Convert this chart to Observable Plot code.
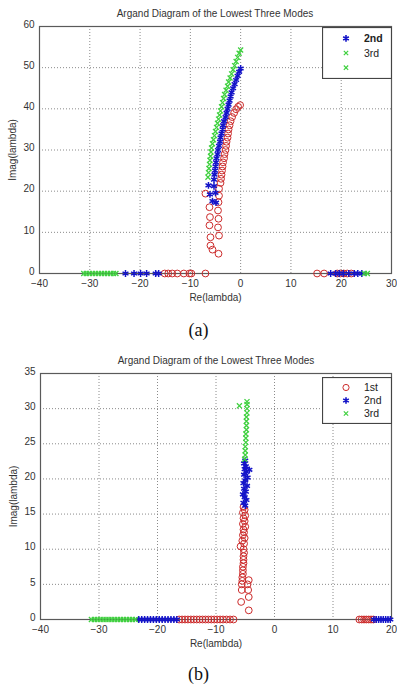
<!DOCTYPE html>
<html><head><meta charset="utf-8">
<script src="https://cdn.jsdelivr.net/npm/d3@7"></script>
<script src="https://cdn.jsdelivr.net/npm/@observablehq/plot@0.6"></script>
<style>
body{margin:0;background:#fff;}
#root{position:relative;width:397px;height:686px;overflow:hidden;font-family:"Liberation Sans",Arial,sans-serif;background:#fff;}
.panel{position:absolute;left:0;}
.title{position:absolute;width:352px;text-align:center;font-size:10px;color:#333;white-space:nowrap;}
.cap{position:absolute;width:397px;left:0;text-align:center;font-family:"Liberation Serif","Times New Roman",serif;font-size:18px;color:#111;}
.legend{position:absolute;}
</style>
</head><body>
<div id="root"></div>
<script>
// ---------- Panel (a) data ----------
const titleText = "Argand Diagram of the Lowest Three Modes";
const xLabel = "Re(lambda)";
const yLabel = "Imag(lambda)";
const xTicksA = [-40, -30, -20, -10, 0, 10, 20, 30];
const yTicksA = [0, 10, 20, 30, 40, 50, 60];
const legendA = ["2nd", "3rd", ""];

// 1st mode (red circles)
const aRe1 = [-15.1,-14.4,-13.6,-12.6,-11.3,-10.2,-9.8,-7.0, 15.2,16.6,19.2,19.8,20.5,21.2,22.0,
  -7.0,-6.2,-6.1,-6.2,-6.0,-6.0,-5.6,-4.3,-4.3,-4.4,-4.5,-4.4,-4.5,-4.3,-4.4,
  -4.0,-3.9,-3.8,-3.7,-3.6,-3.5,-3.3,-3.2,-3.0,-2.9,-2.8,-2.6,-2.5,-2.4,-2.2,-2.0,-1.7,-1.3,-0.9,-0.5,-0.1];
const aIm1 = [0,0,0,0,0,0,0,0, 0,0,0,0,0,0,0,
  19.4,16.1,13.7,11.7,8.8,6.8,5.8,20.6,18.9,17.3,15.3,13.3,11.2,9.2,4.8,
  22,23,24,25,26,27,28,29,30,31,32,33,34,35,36,37,38,39,39.9,40.5,40.9];
// 2nd mode (blue stars)
const aRe2 = [-22.9,-21.2,-19.9,-18.7,-16.9,-16.3, 17.9,18.9,19.6,20.4,21.5,22.6,23.3,24.1,
  -6.4,-5.3,-6.1,-5.0,-5.6,-4.9,-5.3,
  -5.2,-5.1,-5.0,-4.9,-4.8,-4.6,-4.5,-4.3,-4.1,-4.0,-3.8,-3.6,-3.5,-3.3,-3.0,-2.8,-2.6,-2.4,-2.2,-2.0,-1.8,-1.5,-1.2,-0.9,-0.6,-0.3,0];
const aIm2 = [0,0,0,0,0,0, 0,0,0,0,0,0,0,0,
  21.4,21.2,19.2,19.6,17.6,17.2,22.8,
  24,25,26,27,28,29,30,31,32,33,34,35,36,37,38,39,40,41,42,43,44,45,46,47,48,49,49.8];
// 3rd mode (green crosses)
const aRe3 = [-31.2,-30.7,-30.1,-29.5,-28.9,-28.3,-27.7,-27.1,-26.5,-25.9,-25.3,-24.8, 24.6,25.2,
  -6.5,-6.4,-6.3,-6.2,-6.1,-6.0,-5.9,-5.8,-5.6,-5.4,-5.2,-5.0,-4.8,-4.6,-4.4,-4.2,-4.0,-3.8,-3.6,-3.4,-3.2,-2.9,-2.6,-2.4,-2.1,-1.8,-1.5,-1.2,-0.9,-0.6,-0.3,0];
const aIm3 = [0,0,0,0,0,0,0,0,0,0,0,0, 0,0,
  23.4,24.5,25.5,26.5,27.5,28.5,29.5,30.5,31.5,32.5,33.5,34.5,35.5,36.5,37.5,38.5,39.5,40.5,41.5,42.5,43.5,44.5,45.5,46.5,47.5,48.5,49.5,50.5,51.5,52.5,53.5,54.3];

// ---------- Panel (b) data ----------
const xTicksB = [-40, -30, -20, -10, 0, 10, 20];
const yTicksB = [0, 5, 10, 15, 20, 25, 30, 35];
const legendB = ["1st", "2nd", "3rd"];

const bRe1 = [-16.3,-15.8,-15.3,-14.8,-14.3,-13.8,-13.3,-12.8,-12.3,-11.8,-11.3,-10.8,-10.3,-9.8,-9.3,-8.8,-8.2,-7.6,-7.0,
  14.5,14.9,15.3,15.7,16.1,16.5,16.9,
  -5.3,-5.1,-5.4,-5.0,-5.3,-5.1,-5.4,-5.0,-5.3,-5.2,-5.4,-5.1,-5.5,-5.2,-5.8,-5.3,-5.2,-5.3,-5.3,-5.3,-5.4,-5.4,-5.4,-5.5,-5.5,-5.6,-5.6,-5.7,
  -4.4,-4.6,-4.5,-4.4,-4.4];
const bIm1 = [0,0,0,0,0,0,0,0,0,0,0,0,0,0,0,0,0,0,0,
  0,0,0,0,0,0,0,
  16,15.6,15.2,14.8,14.4,14.0,13.6,13.2,12.8,12.4,12.0,11.6,11.2,10.8,10.4,10.0,9.5,9.0,8.5,8.0,7.5,7.0,6.5,6.0,5.5,5.0,4.2,2.5,
  5.6,5.0,4.2,3.2,1.3];
const bRe2 = [-23.2,-22.7,-22.2,-21.7,-21.2,-20.7,-20.2,-19.7,-19.2,-18.7,-18.2,-17.7,-17.2,-16.7,
  17.0,17.4,17.8,18.2,18.6,19.0,19.4,19.8,
  -5.0,-5.3,-4.8,-5.1,-5.4,-4.9,-5.2,-4.7,-5.3,-5.0,-4.6,-5.2,-4.8,-4.3,-5.1,-4.9,-5.2,-5.0];
const bIm2 = [0,0,0,0,0,0,0,0,0,0,0,0,0,0,
  0,0,0,0,0,0,0,0,
  16.2,16.6,17.0,17.4,17.8,18.2,18.6,19.0,19.4,19.8,20.2,20.6,21.0,21.3,21.4,21.8,22.2,22.6];
const bRe3 = [-31.3,-30.8,-30.3,-29.8,-29.3,-28.8,-28.3,-27.8,-27.3,-26.8,-26.3,-25.8,-25.3,-24.8,-24.3,-23.8,
  -5.1,-5.0,-5.0,-5.0,-4.9,-4.9,-4.9,-4.8,-4.8,-4.8,-4.8,-4.7,-4.7,-4.7,-4.7,-6.0];
const bIm3 = [0,0,0,0,0,0,0,0,0,0,0,0,0,0,0,0,
  22.8,23.4,24.0,24.6,25.2,25.8,26.4,27.0,27.6,28.2,28.8,29.4,30.0,30.6,31.0,30.4];

// ---------- styles ----------
const RED = "#cc2b2b", BLUE = "#1414c8", GREEN = "#3fd03f";
const zip = (re, im) => re.map((r, i) => ({re: r, im: im[i]}));

function panel({top, height, mt, mb, ml, mr, xDomain, yDomain, xTicks, yTicks, m1, m2, m3}) {
  const chart = Plot.plot({
    width: 397, height,
    marginTop: mt, marginBottom: mb, marginLeft: ml, marginRight: mr,
    style: {fontFamily: '"Liberation Sans", Arial, sans-serif', fontSize: "10px", color: "#333", background: "transparent", overflow: "visible"},
    x: {domain: xDomain},
    y: {domain: yDomain},
    marks: [
      Plot.gridX(xTicks, {stroke: "#8a8a8a", strokeOpacity: 1, strokeDasharray: "1,2"}),
      Plot.gridY(yTicks, {stroke: "#8a8a8a", strokeOpacity: 1, strokeDasharray: "1,2"}),
      Plot.frame({stroke: "#5a5a5a", strokeWidth: 1.2}),
      Plot.axisX({ticks: xTicks, tickSize: 0, tickPadding: 6, label: xLabel, labelAnchor: "center", labelArrow: "none", labelOffset: 27, fill: "#333"}),
      Plot.axisY({ticks: yTicks, tickSize: 0, tickPadding: 5, dy: -2, label: yLabel, labelAnchor: "center", labelArrow: "none", labelOffset: 31, fill: "#333"}),
      Plot.dot(m1, {x: "re", y: "im", symbol: "circle", r: 3.4, stroke: RED, fill: "none", strokeWidth: 1}),
      Plot.dot(m2, {x: "re", y: "im", symbol: "asterisk", r: 3.2, stroke: BLUE, strokeWidth: 1.5}),
      Plot.dot(m3, {x: "re", y: "im", symbol: "times", r: 2.4, stroke: GREEN, strokeWidth: 1.3})
    ]
  });
  chart.classList.add("panel");
  chart.style.top = top + "px";
  return chart;
}

function legend({left, top, w, h, items}) {
  const svg = d3.create("svg").attr("class", "legend").attr("width", w).attr("height", h)
    .style("left", left + "px").style("top", top + "px");
  svg.append("rect").attr("x", 0.5).attr("y", 0.5).attr("width", w - 1).attr("height", h - 1)
    .attr("fill", "#fff").attr("stroke", "#444").attr("stroke-width", 1.2);
  const n = items.length, step = (h - 8) / n;
  items.forEach((it, i) => {
    const cy = 4 + step * (i + 0.5);
    svg.append("path").attr("transform", `translate(24,${cy})`)
      .attr("d", d3.symbol(it.sym, it.size)())
      .attr("fill", "none").attr("stroke", it.color).attr("stroke-width", it.sw);
    svg.append("text").attr("x", 42).attr("y", cy).attr("dy", "0.35em")
      .attr("font-size", 10.5).attr("fill", "#222").attr("font-weight", it.bold ? "bold" : "normal")
      .attr("font-family", '"Liberation Sans", Arial, sans-serif').text(it.label);
  });
  return svg.node();
}

const root = document.getElementById("root");

function addDiv(cls, text, left, top) {
  const d = document.createElement("div");
  d.className = cls; d.textContent = text;
  if (left != null) d.style.left = left + "px";
  d.style.top = top + "px";
  root.appendChild(d);
}

// Panel (a)
root.appendChild(panel({top: 0, height: 305, mt: 26, mb: 32, ml: 39, mr: 6,
  xDomain: [-40, 30], yDomain: [0, 60], xTicks: xTicksA, yTicks: yTicksA,
  m1: zip(aRe1, aIm1), m2: zip(aRe2, aIm2), m3: zip(aRe3, aIm3)}));
addDiv("title", titleText, 39, 8);
root.appendChild(legend({left: 322, top: 27, w: 70, h: 52, items: [
  {sym: d3.symbolAsterisk, size: 30, color: BLUE, sw: 1.6, label: legendA[0], bold: true},
  {sym: d3.symbolTimes, size: 14, color: GREEN, sw: 1.2, label: legendA[1]},
  {sym: d3.symbolTimes, size: 14, color: GREEN, sw: 1.2, label: legendA[2]}
]}));
addDiv("cap", "(a)", null, 320);

// Panel (b)
root.appendChild(panel({top: 340, height: 310, mt: 33, mb: 31, ml: 40, mr: 6,
  xDomain: [-40, 20], yDomain: [0, 35], xTicks: xTicksB, yTicks: yTicksB,
  m1: zip(bRe1, bIm1), m2: zip(bRe2, bIm2), m3: zip(bRe3, bIm3)}));
addDiv("title", titleText, 40, 355);
root.appendChild(legend({left: 322, top: 377, w: 70, h: 47, items: [
  {sym: d3.symbolCircle, size: 30, color: RED, sw: 1, label: legendB[0]},
  {sym: d3.symbolAsterisk, size: 30, color: BLUE, sw: 1.6, label: legendB[1]},
  {sym: d3.symbolTimes, size: 14, color: GREEN, sw: 1.2, label: legendB[2]}
]}));
addDiv("cap", "(b)", null, 664);
</script>
</body></html>
